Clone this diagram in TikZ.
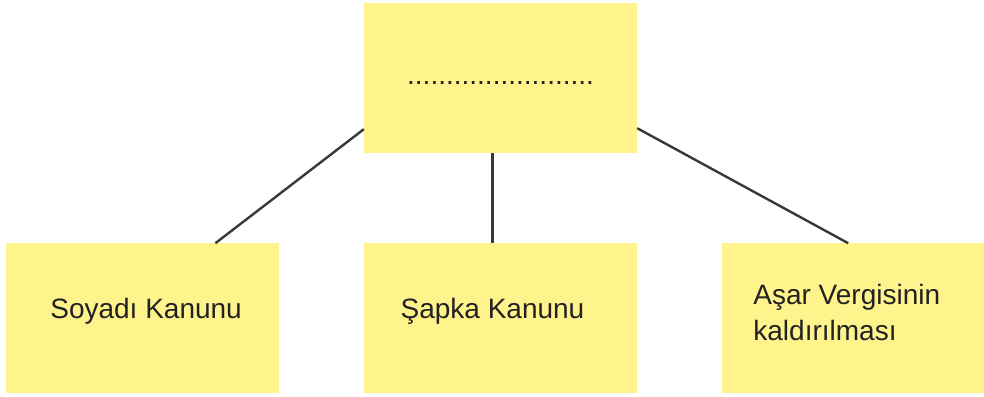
\documentclass[tikz,border=0pt]{standalone}
\usepackage{fontspec}
\setmainfont{Liberation Sans}
\usetikzlibrary{positioning}
\definecolor{boxyellow}{RGB}{255,243,140}
\definecolor{inkgray}{RGB}{34,34,34}

\begin{document}
\begin{tikzpicture}[x=1pt,y=-1pt,node distance=90pt and 85pt,
    box node/.style={rectangle,fill=boxyellow,minimum width=273pt,minimum height=150pt,inner sep=0pt},
    label node/.style={inner sep=0pt,text=inkgray,font=\fontsize{28}{36}\selectfont},
    link/.style={draw=inkgray!90,line width=2.4pt}]
                \useasboundingbox[clip] (0,0) rectangle (984,396);
                \node[box node] (top) at (500.5,78) {};
                \node[box node] (law2) [below=of top] {};
                \node[box node] (law1) [left=of law2] {};
                \node[box node] (law3) [right=of law2] {};

                \node[label node,anchor=base] at ([yshift=-6pt]top.center) {........................};
                \node[label node,anchor=base] at ([xshift=4pt]law1.center) {Soyadı Kanunu};
                \node[label node,anchor=base] at ([xshift=-8pt]law2.center) {Şapka Kanunu};
                \node[label node,anchor=base west,align=left] at ([shift={(31pt,-22pt)}]law3.west) {Aşar Vergisinin\\kaldırılması};

                \path[link]
                    ([yshift=24pt]top.south west) edge ([xshift=210pt]law1.north west)
                    ([xshift=-8pt]top.south) edge ([xshift=-8pt]law2.north)
                    ([yshift=25pt]top.south east) edge ([xshift=126pt]law3.north west)
                    ;
            \end{tikzpicture}
\end{document}
